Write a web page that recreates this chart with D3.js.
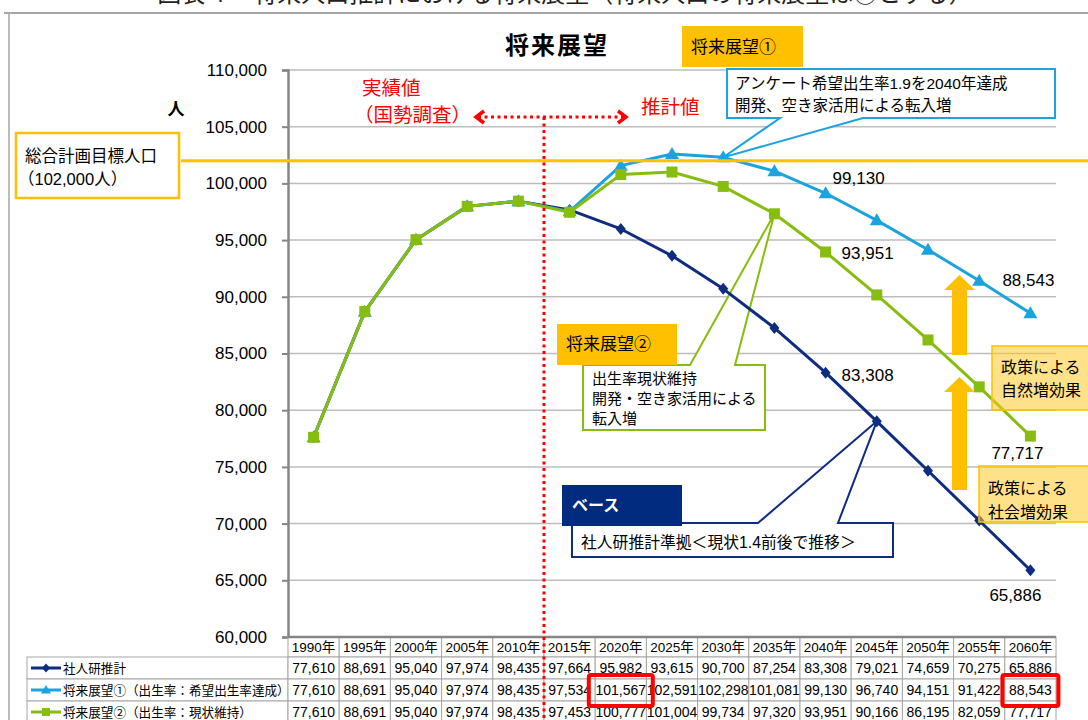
<!DOCTYPE html>
<html><head><meta charset="utf-8">
<script src="https://cdn.jsdelivr.net/npm/d3@7"></script>
<style>
html,body{margin:0;padding:0;background:#fff;}
svg{display:block;}
</style></head>
<body>
<svg id="c" width="1088" height="720"></svg>
<script>
// ---------- data ----------
const years = [1990,1995,2000,2005,2010,2015,2020,2025,2030,2035,2040,2045,2050,2055,2060];
const yearLabels = ["1990年","1995年","2000年","2005年","2010年","2015年","2020年","2025年","2030年","2035年","2040年","2045年","2050年","2055年","2060年"];
const baseValues = [77610,88691,95040,97974,98435,97664,95982,93615,90700,87254,83308,79021,74659,70275,65886];
const vision1Values = [77610,88691,95040,97974,98435,97534,101567,102591,102298,101081,99130,96740,94151,91422,88543];
const vision2Values = [77610,88691,95040,97974,98435,97453,100777,101004,99734,97320,93951,90166,86195,82059,77717];
const seriesNames = ["社人研推計","将来展望①（出生率：希望出生率達成）","将来展望②（出生率：現状維持）"];
const yTicks = [60000,65000,70000,75000,80000,85000,90000,95000,100000,105000,110000];
const targetPopulation = 102000;

const FONT = "'Liberation Sans', Arial, 'Noto Sans CJK JP', sans-serif";
const C_NAVY = "#0E2C80", C_BLUE = "#1BA3E0", C_GREEN = "#86BD0E", C_ORANGE = "#FFC000", C_RED = "#FF0000";

const series = [
  {name: seriesNames[0], values: baseValues, color: C_NAVY, marker: "M0,-6L5,0L0,6L-5,0Z", lmarker: "M0,-4.5L4,0L0,4.5L-4,0Z"},
  {name: seriesNames[1], values: vision1Values, color: C_BLUE, marker: "M0,-7L7,5L-7,5Z", lmarker: "M0,-5L5,3.5L-5,3.5Z"},
  {name: seriesNames[2], values: vision2Values, color: C_GREEN, marker: "M-5.5,-5.5H5.5V5.5H-5.5Z", lmarker: "M-4,-4H4V4H-4Z"}
];

const svg = d3.select("#c");
svg.attr("font-family", FONT);

const x = d3.scaleBand().domain(years).range([288, 1056]);
const bw = x.bandwidth();
const cx = yr => x(yr) + bw / 2;
const y = d3.scaleLinear().domain([60000, 110000]).range([637, 70]);

// cut-off page title at very top (as in the reference)
svg.append("text").attr("x", 565).attr("y", 2).attr("text-anchor", "middle")
  .attr("font-size", 24).attr("fill", "#222")
  .text("図表４　将来人口推計における将来展望（将来人口の将来展望は②とする）");

// frame
svg.append("line").attr("x1", 4).attr("x2", 1088).attr("y1", 13).attr("y2", 13)
  .attr("stroke", "#A6A6A6").attr("stroke-width", 2);
svg.append("line").attr("x1", 9).attr("x2", 9).attr("y1", 13).attr("y2", 720)
  .attr("stroke", "#A6A6A6").attr("stroke-width", 1.5);

// grid lines
svg.append("g").selectAll("line").data(yTicks.filter(t => t > 60000)).join("line")
  .attr("x1", 288).attr("x2", 1056).attr("y1", d => y(d)).attr("y2", d => y(d))
  .attr("stroke", "#BDBDBD").attr("stroke-width", 1.5);

// y axis
const yAxis = d3.axisLeft(y).tickValues(yTicks).tickSize(6).tickPadding(15).tickFormat(d3.format(","));
const ya = svg.append("g").attr("transform", "translate(288,0)").call(yAxis);
ya.select(".domain").attr("stroke", "#868686").attr("stroke-width", 2.5);
ya.selectAll(".tick line").attr("stroke", "#868686").attr("stroke-width", 2);
ya.selectAll(".tick text").attr("font-size", 17).attr("font-family", FONT).attr("fill", "#000");

// unit
svg.append("text").attr("x", 176).attr("y", 115).attr("text-anchor", "middle")
  .attr("font-size", 17).attr("font-weight", "bold").text("人");

// chart title
svg.append("text").attr("x", 557).attr("y", 54).attr("text-anchor", "middle")
  .attr("font-size", 24).attr("font-weight", "bold").attr("letter-spacing", 2).text("将来展望");

// ---------- table ----------
const tTop = 637, hH = 20, rH = 22;
const tbl = svg.append("g");
tbl.selectAll("rect.h").data(years).join("rect")
  .attr("x", d => x(d)).attr("y", tTop).attr("width", bw).attr("height", hH)
  .attr("fill", "#fff").attr("stroke", "#A6A6A6").attr("stroke-width", 1);
tbl.selectAll("text.h").data(years).join("text")
  .attr("x", d => cx(d)).attr("y", tTop + 15).attr("text-anchor", "middle")
  .attr("font-size", 13.5).text((d, i) => yearLabels[i]);
series.forEach((s, si) => {
  const ry = tTop + hH + si * rH;
  tbl.append("rect").attr("x", 27).attr("y", ry).attr("width", 261).attr("height", rH)
    .attr("fill", "#fff").attr("stroke", "#A6A6A6").attr("stroke-width", 1);
  tbl.append("line").attr("x1", 31).attr("x2", 61).attr("y1", ry + rH / 2).attr("y2", ry + rH / 2)
    .attr("stroke", s.color).attr("stroke-width", 3);
  tbl.append("path").attr("d", s.lmarker).attr("transform", `translate(46,${ry + rH / 2})`).attr("fill", s.color);
  tbl.append("text").attr("x", 63).attr("y", ry + 15.5).attr("font-size", 12.6).text(s.name);
  tbl.selectAll(null).data(years).join("rect")
    .attr("x", d => x(d)).attr("y", ry).attr("width", bw).attr("height", rH)
    .attr("fill", "#fff").attr("stroke", "#A6A6A6").attr("stroke-width", 1);
  tbl.selectAll(null).data(s.values).join("text")
    .attr("x", (d, i) => cx(years[i])).attr("y", ry + 16).attr("text-anchor", "middle")
    .attr("font-size", 14).text(d => d3.format(",")(d));
});
svg.append("line").attr("x1", 288).attr("x2", 1056).attr("y1", tTop).attr("y2", tTop)
  .attr("stroke", "#868686").attr("stroke-width", 2.5);

// red highlight boxes
const r2y = tTop + hH + rH;
svg.append("rect").attr("x", cx(2020) - 32).attr("y", r2y - 4).attr("width", 64).attr("height", 31)
  .attr("fill", "none").attr("stroke", C_RED).attr("stroke-width", 4).attr("rx", 2);
svg.append("rect").attr("x", cx(2060) - 28).attr("y", r2y - 4).attr("width", 56).attr("height", 31)
  .attr("fill", "none").attr("stroke", C_RED).attr("stroke-width", 4).attr("rx", 2);

// ---------- callouts ----------
function callout(box, wx1, wx2, tip, side, color) {
  const [x0, y0, x1, y1] = box;
  let pts;
  if (side === "bottom") pts = [[x0,y0],[x1,y0],[x1,y1],[wx2,y1],tip,[wx1,y1],[x0,y1]];
  else pts = [[x0,y0],[wx1,y0],tip,[wx2,y0],[x1,y0],[x1,y1],[x0,y1]];
  svg.append("path").attr("d", "M" + pts.map(p => p.join(",")).join("L") + "Z")
    .attr("fill", "#fff").attr("stroke", color).attr("stroke-width", 2).attr("stroke-linejoin", "miter");
}
callout([727, 69, 1055, 118], 780, 863, [cx(2030), y(vision1Values[8])], "bottom", C_BLUE);
callout([583, 365, 765, 430], 690, 735, [cx(2035), y(vision2Values[9])], "top", C_GREEN);
callout([572, 523, 893, 557], 758, 838, [cx(2045), y(baseValues[11])], "top", C_NAVY);

svg.append("text").attr("x", 735).attr("y", 89).attr("font-size", 15.5).text("アンケート希望出生率1.9を2040年達成");
svg.append("text").attr("x", 735).attr("y", 111).attr("font-size", 15.5).text("開発、空き家活用による転入増");
svg.append("text").attr("x", 592).attr("y", 384).attr("font-size", 15).text("出生率現状維持");
svg.append("text").attr("x", 592).attr("y", 404).attr("font-size", 15).text("開発・空き家活用による");
svg.append("text").attr("x", 592).attr("y", 424).attr("font-size", 15).text("転入増");
svg.append("text").attr("x", 581).attr("y", 548).attr("font-size", 15.8).text("社人研推計準拠＜現状1.4前後で推移＞");

// ---------- series ----------
const line = d3.line().x((d, i) => cx(years[i])).y(d => y(d));
series.forEach(s => {
  svg.append("path").attr("d", line(s.values)).attr("fill", "none")
    .attr("stroke", s.color).attr("stroke-width", 3).attr("stroke-linejoin", "round");
});
series.forEach(s => {
  svg.append("g").selectAll("path").data(s.values).join("path")
    .attr("d", s.marker).attr("fill", s.color)
    .attr("transform", (d, i) => `translate(${cx(years[i])},${y(d)})`);
});

// target line
svg.append("line").attr("x1", 181).attr("x2", 1088).attr("y1", y(targetPopulation)).attr("y2", y(targetPopulation))
  .attr("stroke", C_ORANGE).attr("stroke-width", 3);
svg.append("rect").attr("x", 16).attr("y", 133).attr("width", 163).attr("height", 65)
  .attr("fill", "#fff").attr("stroke", C_ORANGE).attr("stroke-width", 2.5);
svg.append("text").attr("x", 25).attr("y", 162).attr("font-size", 16.5).text("総合計画目標人口");
svg.append("text").attr("x", 18).attr("y", 185).attr("font-size", 16.5).text("（102,000人）");

// data labels
const fmt = d3.format(",");
const labels = [
  {v: vision1Values, i: 10, dx: 7, dy: -9},
  {v: vision2Values, i: 10, dx: 16, dy: 7},
  {v: baseValues, i: 10, dx: 16, dy: 8},
  {v: vision1Values, i: 14, dx: -28, dy: -27},
  {v: vision2Values, i: 14, dx: -39, dy: 23},
  {v: baseValues, i: 14, dx: -41, dy: 31}
];
labels.forEach(l => {
  svg.append("text").attr("x", cx(years[l.i]) + l.dx).attr("y", y(l.v[l.i]) + l.dy)
    .attr("font-size", 17).text(fmt(l.v[l.i]));
});

// orange tags
svg.append("rect").attr("x", 682).attr("y", 26).attr("width", 121).attr("height", 41).attr("fill", C_ORANGE);
svg.append("text").attr("x", 691).attr("y", 53).attr("font-size", 17).text("将来展望①");
svg.append("rect").attr("x", 557).attr("y", 324).attr("width", 120).attr("height", 41).attr("fill", C_ORANGE);
svg.append("text").attr("x", 566).attr("y", 350).attr("font-size", 17).text("将来展望②");
svg.append("rect").attr("x", 562).attr("y", 485).attr("width", 120).attr("height", 41).attr("fill", "#002B7F");
svg.append("text").attr("x", 572).attr("y", 511).attr("font-size", 16).attr("font-weight", "bold")
  .attr("fill", "#fff").text("ベース");

// red actual / estimate annotation
svg.append("line").attr("x1", x(2015)).attr("x2", x(2015)).attr("y1", 117).attr("y2", 720)
  .attr("stroke", C_RED).attr("stroke-width", 3).attr("stroke-dasharray", "3,3.5");
svg.append("line").attr("x1", 478).attr("x2", 624).attr("y1", 117).attr("y2", 117)
  .attr("stroke", C_RED).attr("stroke-width", 3).attr("stroke-dasharray", "3,3.5");
svg.append("path").attr("d", "M484,111L476,117L484,123").attr("fill", "none").attr("stroke", C_RED).attr("stroke-width", 3.5);
svg.append("path").attr("d", "M618,111L626,117L618,123").attr("fill", "none").attr("stroke", C_RED).attr("stroke-width", 3.5);
svg.append("text").attr("x", 362).attr("y", 95).attr("font-size", 19.5).attr("fill", C_RED).text("実績値");
svg.append("text").attr("x", 354).attr("y", 122).attr("font-size", 19.5).attr("fill", C_RED).text("（国勢調査）");
svg.append("text").attr("x", 641).attr("y", 114).attr("font-size", 19.5).attr("fill", C_RED).text("推計値");

// policy arrows
function upArrow(top, bottom) {
  const hb = top + 15;
  svg.append("path").attr("d", `M959.5,${top}L975,${hb}L967,${hb}L967,${bottom}L952,${bottom}L952,${hb}L944,${hb}Z`)
    .attr("fill", C_ORANGE);
}
upArrow(275, 355);
upArrow(377, 490);

svg.append("rect").attr("x", 992).attr("y", 346).attr("width", 110).attr("height", 64)
  .attr("fill", "rgba(255,200,40,0.55)").attr("stroke", C_ORANGE).attr("stroke-width", 1.5);
svg.append("text").attr("x", 1001).attr("y", 373).attr("font-size", 16).text("政策による");
svg.append("text").attr("x", 1001).attr("y", 396).attr("font-size", 16).text("自然増効果");
svg.append("rect").attr("x", 979).attr("y", 466).attr("width", 120).attr("height", 56)
  .attr("fill", "rgba(255,200,40,0.55)").attr("stroke", C_ORANGE).attr("stroke-width", 1.5);
svg.append("text").attr("x", 988).attr("y", 494).attr("font-size", 16).text("政策による");
svg.append("text").attr("x", 988).attr("y", 518).attr("font-size", 16).text("社会増効果");
</script>
</body></html>
